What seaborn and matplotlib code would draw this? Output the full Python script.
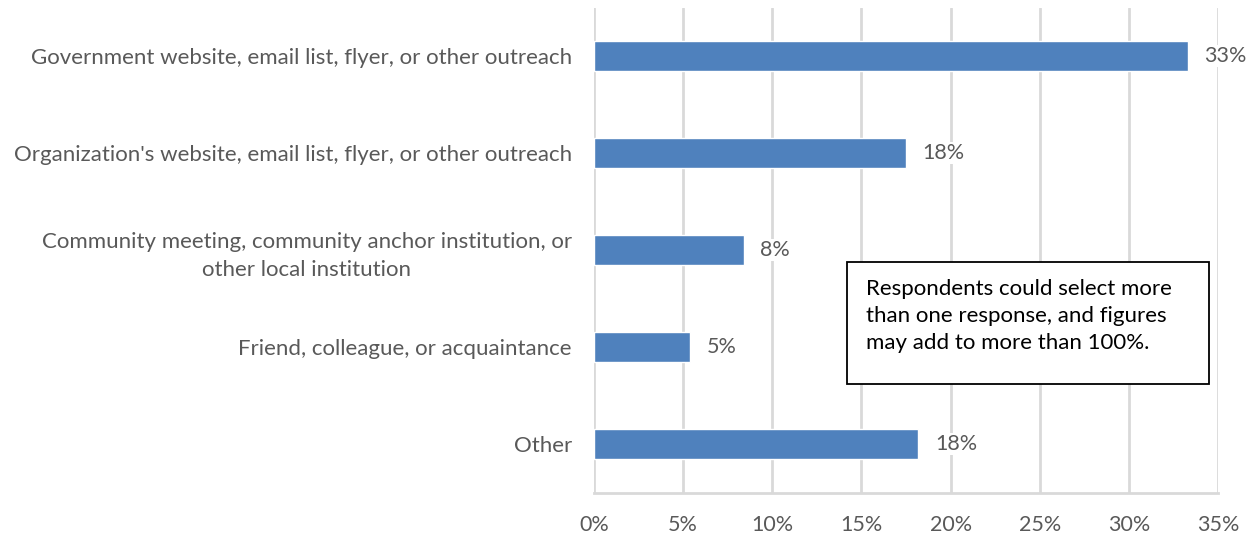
import matplotlib
matplotlib.use("Agg")
import matplotlib.pyplot as plt
import seaborn as sns
import pandas as pd

# Survey responses: how respondents heard about the program
categories = [
    "Government website, email list, flyer, or other outreach",
    "Organization's website, email list, flyer, or other outreach",
    "Community meeting, community anchor institution, or\nother local institution",
    "Friend, colleague, or acquaintance",
    "Other",
]
shares = [33.3, 17.5, 8.4, 5.4, 18.2]
x_ticks = [0, 5, 10, 15, 20, 25, 30, 35]
note = "Respondents could select more\nthan one response, and figures\nmay add to more than 100%."

sns.set_theme(style="white")
plt.rcParams["font.family"] = ["Lato", "DejaVu Sans"]

text_gray = "#595959"
grid_gray = "#d9d9d9"
bar_blue = "#4F81BD"

df = pd.DataFrame({"category": categories, "share": shares})

fig = plt.figure(figsize=(12.53, 5.40), dpi=100)
ax = fig.add_axes([594 / 1253, 1 - 492.5 / 540, 624 / 1253, 485 / 540])

sns.barplot(data=df, x="share", y="category", orient="h", color=bar_blue,
            width=0.31, saturation=1, ax=ax, zorder=3)

ax.set_xlim(0, 35)
ax.set_xticks(x_ticks)
ax.set_xticklabels([f"{t}%" for t in x_ticks])
ax.set_xlabel("")
ax.set_ylabel("")
ax.xaxis.grid(True, color=grid_gray, linewidth=2, zorder=0)
ax.set_axisbelow(True)
for side in ["top", "right", "left"]:
    ax.spines[side].set_visible(False)
ax.spines["bottom"].set_color(grid_gray)
ax.spines["bottom"].set_linewidth(2)
ax.tick_params(axis="both", length=0, colors=text_gray)
ax.tick_params(axis="x", pad=16, labelsize=15.5)
ax.tick_params(axis="y", pad=16, labelsize=16)
for lbl in ax.get_yticklabels():
    lbl.set_horizontalalignment("right")
    lbl.set_multialignment("center")
    lbl.set_linespacing(1.5)

# Value labels at the end of each bar
for container in ax.containers:
    ax.bar_label(container, labels=[f"{v:.0f}%" for v in shares], padding=12,
                 fontsize=15.5, color=text_gray,
                 bbox=dict(facecolor="white", edgecolor="none", pad=1))

# Note box
fig.text(866 / 1253, 1 - 316 / 540, note, fontsize=16, color="black",
         va="center", ha="left", linespacing=1.45)
box = plt.Rectangle((847 / 1253, 1 - 384 / 540), 362 / 1253, 122 / 540,
                    transform=fig.transFigure, facecolor="white",
                    edgecolor="black", linewidth=1.3, zorder=2)
fig.patches.append(box)

fig.savefig("out.png", dpi=100)
